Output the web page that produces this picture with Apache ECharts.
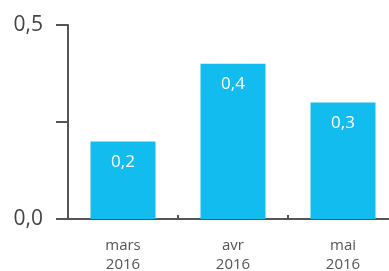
<!DOCTYPE html>
<html>
<head>
<meta charset="utf-8">
<script src="https://cdn.jsdelivr.net/npm/echarts@6/dist/echarts.min.js"></script>
<style>
  html, body { margin: 0; padding: 0; background: #fff; }
  #chart { width: 389px; height: 271px; }
</style>
</head>
<body>
<div id="chart"></div>
<script>
const categories = ['mars\n2016', 'avr\n2016', 'mai\n2016'];
const values = [0.2, 0.4, 0.3];
const yTickLabels = { 0: '0,0', 0.5: '0,5' };

const fmt = (v) => String(v).replace('.', ',');

const chart = echarts.init(document.getElementById('chart'));
chart.setOption({
  animation: false,
  grid: { left: 68, top: 25, bottom: 52, width: 330, outerBoundsMode: 'none', containLabel: false },
  xAxis: {
    type: 'category',
    data: categories,
    axisLine: { lineStyle: { color: '#555', width: 2 } },
    axisTick: { show: true, inside: true, length: 4, lineStyle: { color: '#555', width: 2 } },
    axisLabel: {
      color: '#555',
      fontFamily: 'Open Sans',
      fontSize: 15,
      lineHeight: 19,
      margin: 17
    }
  },
  yAxis: {
    type: 'value',
    min: 0,
    max: 0.5,
    interval: 0.25,
    splitLine: { show: false },
    axisLine: { show: true, lineStyle: { color: '#555', width: 2 } },
    axisTick: { show: true, length: 12, lineStyle: { color: '#555', width: 2 } },
    axisLabel: {
      color: '#444',
      fontFamily: 'Open Sans',
      fontSize: 21,
      margin: 25,
      formatter: (v) => yTickLabels[v] || ''
    }
  },
  series: [{
    type: 'bar',
    data: values,
    barWidth: 65,
    itemStyle: { color: '#13bcef' },
    label: {
      show: true,
      position: 'insideTop',
      distance: 12,
      color: '#fff',
      fontFamily: 'Open Sans',
      fontSize: 17,
      formatter: (p) => fmt(p.value)
    }
  }]
});
</script>
</body>
</html>
